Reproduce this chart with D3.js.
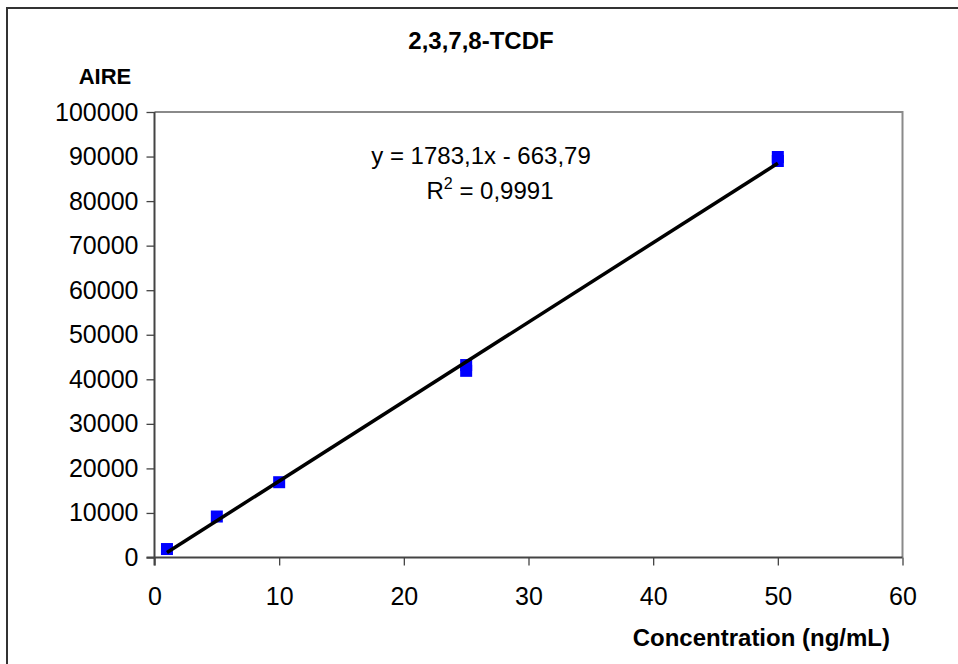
<!DOCTYPE html>
<html><head><meta charset="utf-8">
<script src="https://cdn.jsdelivr.net/npm/d3@7"></script>
<style>body{margin:0;background:#fff}svg{display:block}text{font-family:"Liberation Sans",Arial,sans-serif;fill:#000}</style>
</head><body><svg id="c" width="958" height="664"></svg>
<script>
const concentrations = [1, 5, 10, 25, 25, 50, 50];
const areas = [1900, 9200, 16900, 43200, 41900, 89900, 89000];
const xTicks = [0, 10, 20, 30, 40, 50, 60];
const yTicks = [0, 10000, 20000, 30000, 40000, 50000, 60000, 70000, 80000, 90000, 100000];
const slope = 1783.1, intercept = -663.79;
const fitRange = [1, 50];
const title = "2,3,7,8-TCDF";
const yTitle = "AIRE";
const xTitle = "Concentration (ng/mL)";
const eqText = "y = 1783,1x - 663,79";
const r2Text = "0,9991";

const svg = d3.select("#c");
const L = 154.5, R = 902.5, T = 112, B = 557.5;
const x = d3.scaleLinear().domain([0, 60]).range([L, R]);
const y = d3.scaleLinear().domain([0, 100000]).range([B, T]);

svg.append("rect").attr("x", 7).attr("y", 8).attr("width", 980).attr("height", 700)
  .attr("fill", "none").attr("stroke", "#333").attr("stroke-width", 2);

svg.append("path").attr("d", `M${L},${T}H${R}V${B}`).attr("fill", "none")
  .attr("stroke", "#8a8a8a").attr("stroke-width", 2);

const xAxis = d3.axisBottom(x).tickValues(xTicks).tickSize(8).tickPadding(22).tickFormat(d3.format("d"));
const yAxis = d3.axisLeft(y).tickValues(yTicks).tickSize(8).tickPadding(8).tickFormat(d3.format("d"));
const gx = svg.append("g").attr("transform", `translate(0,${B})`).call(xAxis);
const gy = svg.append("g").attr("transform", `translate(${L},0)`).call(yAxis);
[gx, gy].forEach(g => {
  g.select(".domain").attr("stroke", "#444").attr("stroke-width", 2);
  g.selectAll(".tick line").attr("stroke", "#444").attr("stroke-width", 1.3);
  g.selectAll(".tick text").style("font-size", "25px").style("font-family", "Liberation Sans, Arial, sans-serif").attr("fill", "#000");
});
gy.select(".domain").attr("d", `M0,${B + 8}V${T}`);
gx.select(".domain").attr("d", `M${L - 8},0H${R}`);

const s = 12;
svg.append("g").selectAll("rect").data(concentrations.map((c, i) => [c, areas[i]])).join("rect")
  .attr("x", d => x(d[0]) - s / 2).attr("y", d => y(d[1]) - s / 2)
  .attr("width", s).attr("height", s).attr("fill", "#0000ff");

svg.append("line")
  .attr("x1", x(fitRange[0])).attr("y1", y(slope * fitRange[0] + intercept))
  .attr("x2", x(fitRange[1])).attr("y2", y(slope * fitRange[1] + intercept))
  .attr("stroke", "#000").attr("stroke-width", 3.5);

svg.append("text").attr("x", 481).attr("y", 49).attr("text-anchor", "middle")
  .style("font-size", "24px").style("font-weight", "bold").text(title);
svg.append("text").attr("x", 105).attr("y", 84).attr("text-anchor", "middle")
  .style("font-size", "22px").style("font-weight", "bold").text(yTitle);
svg.append("text").attr("x", 890).attr("y", 646).attr("text-anchor", "end")
  .style("font-size", "24px").style("font-weight", "bold").text(xTitle);

svg.append("text").attr("x", 481).attr("y", 164).attr("text-anchor", "middle")
  .style("font-size", "24px").text(eqText);
const r2 = svg.append("text").attr("x", 490).attr("y", 199).attr("text-anchor", "middle").style("font-size", "24px");
r2.append("tspan").text("R");
r2.append("tspan").attr("dy", -10).style("font-size", "16px").text("2");
r2.append("tspan").attr("dy", 10).text(" = " + r2Text);
</script></body></html>
